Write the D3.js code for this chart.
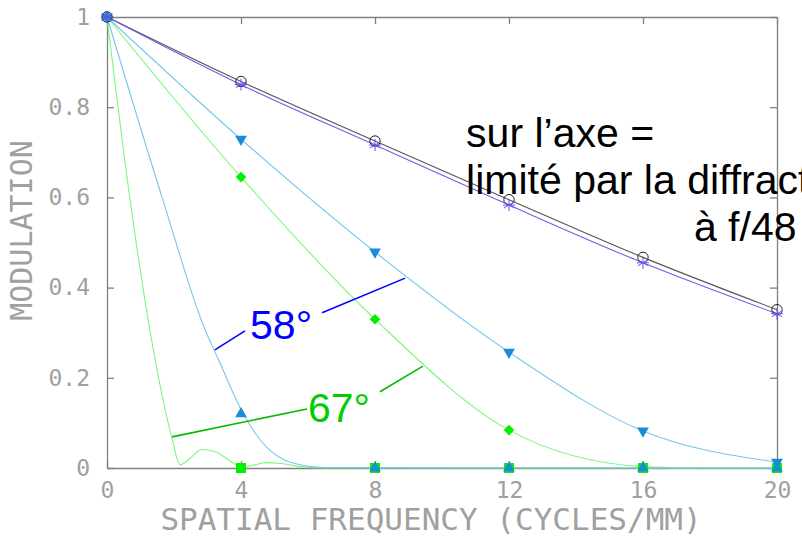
<!DOCTYPE html>
<html>
<head>
<meta charset="utf-8">
<script src="https://d3js.org/d3.v7.min.js"></script>
<style>
  body { margin: 0; background: #fff; }
  svg { display: block; }
</style>
</head>
<body>
<div id="chart"></div>
<script>
// spatial frequency (cycles/mm) of the sampled points
var freqs = [0, 4, 8, 12, 16, 20];
var xTicks = [0, 4, 8, 12, 16, 20];
var yTicks = [0, 0.2, 0.4, 0.6, 0.8, 1];

// on axis, diffraction limited (circles) and computed (asterisks)
var diffValues = [1, 0.857, 0.725, 0.595, 0.467, 0.351];
var axisValues = [1, 0.850, 0.716, 0.583, 0.455, 0.342];
// off-axis curves
var downTriValues = [1, 0.729, 0.479, 0.257, 0.082, 0.013];
var diamondValues = [1, 0.645, 0.330, 0.084, 0.003];
var diamondFreqs = [0, 4, 8, 12, 16];
var diamondCurveFreqs = [0, 4, 8, 12, 16, 17.5];
var diamondCurveValues = [1, 0.645, 0.330, 0.084, 0.003, 0];
// 58 deg (up triangles)
var upTriValues = [1, 0.12, 0, 0, 0, 0];
var upTriCurveFreqs = [0, 1.67, 2.93, 3.3, 4.12, 4.78, 5.5, 6.5, 20];
var upTriCurveValues = [1, 0.594, 0.306, 0.245, 0.113, 0.045, 0.012, 0.001, 0];
// 67 deg (squares)
var squareFreqs = [4, 8, 12, 16, 20];
var squareValues = [0, 0, 0, 0, 0];
var squareCurveFreqs = [0, 0.69, 1.28, 1.93, 2.18, 2.4, 2.83, 3.27, 3.77, 4.05, 4.4, 4.77, 5.2, 5.76, 6.5, 20];
var squareCurveValues = [1, 0.594, 0.306, 0.069, 0.007, 0.016, 0.041, 0.035, 0.011, 0.002, 0.007, 0.012, 0.010, 0.003, 0, 0];

var width = 802, height = 537;
var margin = {top: 17, right: 25, bottom: 69, left: 107};

var svg = d3.select("#chart").append("svg")
    .attr("width", width)
    .attr("height", height);

var x = d3.scaleLinear().domain([0, 20]).range([margin.left, width - margin.right]);
var y = d3.scaleLinear().domain([0, 1]).range([height - margin.bottom, margin.top]);

var gray = "#808080";
var labelGray = "#a0a0a0";
var tickFont = "'DejaVu Sans Mono', monospace";

// axes, ticks pointing inward
var bottomAxis = svg.append("g")
    .attr("transform", "translate(0," + y(0) + ")")
    .call(d3.axisBottom(x).tickValues(xTicks).tickSizeInner(-7).tickSizeOuter(0).tickPadding(14).tickFormat(d3.format("d")));
var leftAxis = svg.append("g")
    .attr("transform", "translate(" + x(0) + ",0)")
    .call(d3.axisLeft(y).tickValues(yTicks).tickSizeInner(-7).tickSizeOuter(0).tickPadding(17).tickFormat(function(d) { return String(d); }));
var topAxis = svg.append("g")
    .attr("transform", "translate(0," + y(1) + ")")
    .call(d3.axisTop(x).tickValues(xTicks).tickSizeInner(-7).tickSizeOuter(0).tickFormat(""));
var rightAxis = svg.append("g")
    .attr("transform", "translate(" + x(20) + ",0)")
    .call(d3.axisRight(y).tickValues(yTicks).tickSizeInner(-7).tickSizeOuter(0).tickFormat(""));

[bottomAxis, leftAxis, topAxis, rightAxis].forEach(function(g) {
    g.selectAll("path, line").attr("stroke", gray).attr("stroke-width", 1.3);
    g.selectAll("text")
        .attr("fill", labelGray)
        .style("font-family", tickFont)
        .style("font-size", "23px");
});

// axis titles
svg.append("text")
    .attr("x", 431)
    .attr("y", 530)
    .attr("text-anchor", "middle")
    .attr("fill", labelGray)
    .style("font-family", tickFont)
    .style("font-size", "31px")
    .text("SPATIAL FREQUENCY (CYCLES/MM)");

svg.append("text")
    .attr("transform", "translate(32," + ((y(0) + y(1)) / 2 - 12) + ") rotate(-90)")
    .attr("text-anchor", "middle")
    .attr("fill", labelGray)
    .style("font-family", tickFont)
    .style("font-size", "30px")
    .text("MODULATION");

var line = d3.line()
    .x(function(d) { return x(d[0]); })
    .y(function(d) { return y(d[1]); })
    .curve(d3.curveMonotoneX);

function drawCurve(fs, vs, color) {
    svg.append("path")
        .datum(d3.zip(fs, vs))
        .attr("d", line)
        .attr("fill", "none")
        .attr("stroke", color)
        .attr("stroke-width", 1.1);
}

drawCurve(squareCurveFreqs, squareCurveValues, "#7cf57c");
drawCurve(diamondCurveFreqs, diamondCurveValues, "#7cf57c");
drawCurve(upTriCurveFreqs, upTriCurveValues, "#78c6ee");
drawCurve(freqs, downTriValues, "#78c6ee");
drawCurve(freqs, diffValues, "#555555");
drawCurve(freqs, axisValues, "#6f5fe8");

// markers
function drawMarkers(fs, vs, symPath, fill, stroke, rot) {
    svg.append("g").selectAll("path")
        .data(d3.zip(fs, vs))
        .join("path")
        .attr("transform", function(d) { return "translate(" + x(d[0]) + "," + y(d[1]) + ")" + (rot ? " rotate(" + rot + ")" : ""); })
        .attr("d", symPath)
        .attr("fill", fill)
        .attr("stroke", stroke)
        .attr("stroke-width", 1);
}

var squareSym = d3.symbol().type(d3.symbolSquare).size(100)();
var diamondSym = d3.symbol().type(d3.symbolSquare).size(56)();
var triSym = d3.symbol().type(d3.symbolTriangle).size(60)();
var circleSym = d3.symbol().type(d3.symbolCircle).size(85)();
var starPath = "M0,-6L0,6M-5.2,-3L5.2,3M-5.2,3L5.2,-3M-6,0L6,0";

drawMarkers(squareFreqs, squareValues, squareSym, "#00f000", "none");
drawMarkers(diamondFreqs, diamondValues, diamondSym, "#00f000", "none", 45);
drawMarkers(freqs, upTriValues, triSym, "#1a8bd6", "none");
drawMarkers(freqs, downTriValues, triSym, "#1a8bd6", "none", 180);
drawMarkers(freqs, diffValues, circleSym, "none", "#222");
drawMarkers(freqs, axisValues, starPath, "none", "#6a4ef0");

// annotations
var notes = [
    {text: "sur l\u2019axe =", fx: 10.72, fy: 0.712, color: "#000"},
    {text: "limit\u00e9 par la diffraction", fx: 10.72, fy: 0.608, color: "#000"},
    {text: "\u00e0 f/48", fx: 17.52, fy: 0.503, color: "#000"},
    {text: "58\u00b0", fx: 4.27, fy: 0.286, color: "#0000ff"},
    {text: "67\u00b0", fx: 6.0, fy: 0.102, color: "#00cc00"}
];
svg.append("g").selectAll("text")
    .data(notes)
    .join("text")
    .attr("x", function(d) { return x(d.fx); })
    .attr("y", function(d) { return y(d.fy); })
    .attr("fill", function(d) { return d.color; })
    .style("font-family", "'Liberation Sans', Arial, sans-serif")
    .style("font-size", "41px")
    .text(function(d) { return d.text; });

var leaders = [
    {x1: 3.22, y1: 0.262, x2: 4.12, y2: 0.304, color: "#0000ff"},
    {x1: 6.42, y1: 0.344, x2: 8.9, y2: 0.421, color: "#0000ff"},
    {x1: 1.94, y1: 0.069, x2: 5.97, y2: 0.131, color: "#00bb00"},
    {x1: 8.15, y1: 0.169, x2: 9.43, y2: 0.226, color: "#00bb00"}
];
svg.append("g").selectAll("line")
    .data(leaders)
    .join("line")
    .attr("x1", function(d) { return x(d.x1); })
    .attr("y1", function(d) { return y(d.y1); })
    .attr("x2", function(d) { return x(d.x2); })
    .attr("y2", function(d) { return y(d.y2); })
    .attr("stroke", function(d) { return d.color; })
    .attr("stroke-width", 1.6);
</script>
</body>
</html>
